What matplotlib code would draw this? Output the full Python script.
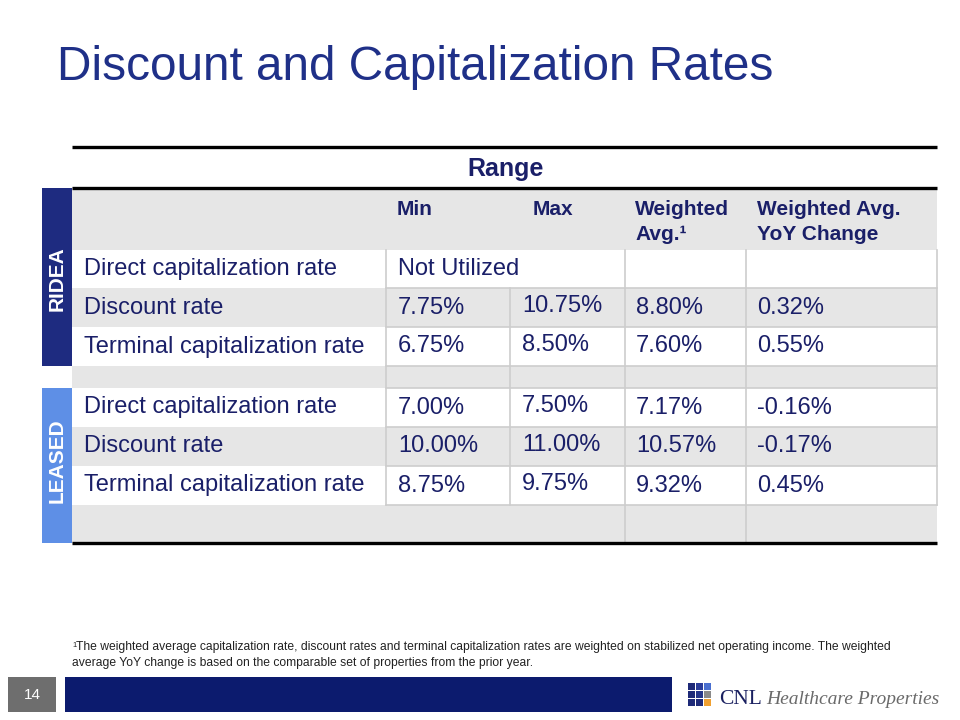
import matplotlib
matplotlib.use("Agg")
import matplotlib.pyplot as plt
from matplotlib.patches import Rectangle

# ---------------- data ----------------
title = "Discount and Capitalization Rates"
group_header = "Range"
col_headers = ["Min", "Max", "Weighted\nAvg.¹", "Weighted Avg.\nYoY Change"]
sections = ["RIDEA", "LEASED"]
row_labels = ["Direct capitalization rate", "Discount rate", "Terminal capitalization rate"]
ridea_min = ["Not Utilized", "7.75%", "6.75%"]
ridea_max = ["", "10.75%", "8.50%"]
ridea_wavg = ["", "8.80%", "7.60%"]
ridea_yoy = ["", "0.32%", "0.55%"]
leased_min = ["7.00%", "10.00%", "8.75%"]
leased_max = ["7.50%", "11.00%", "9.75%"]
leased_wavg = ["7.17%", "10.57%", "9.32%"]
leased_yoy = ["-0.16%", "-0.17%", "0.45%"]
footnote_mark = "1"
footnote_lines = ["The weighted average capitalization rate, discount rates and terminal capitalization rates are weighted on "
                  "stabilized net operating income. The weighted",
                  "average YoY change is based on the comparable set of properties from the prior year."]
page_no = "14"

# ---------------- style ----------------
NAVY = "#1F3088"
TXT = "#1A1F68"
GRAY = "#E6E6E6"
LINE = "#CDCDCD"
RIDEA_C = "#1E2B80"
LEASED_C = "#5E8FE6"
FONT = "Liberation Sans"

fig = plt.figure(figsize=(9.6, 7.2), dpi=100)
ax = fig.add_axes([0, 0, 1, 1])
ax.set_xlim(0, 960)
ax.set_ylim(720, 0)
ax.axis("off")

def rect(x0, y0, x1, y1, color, z=1):
    ax.add_patch(Rectangle((x0, y0), x1 - x0, y1 - y0, facecolor=color, edgecolor="none", zorder=z))

# title
ax.text(57, 68, title, fontsize=34.4, color=NAVY, family=FONT, va="center", ha="left")

# table geometry
X = [72, 386, 510, 625, 746, 937]
hdr_top, hdr_bot = 188, 250
sec_rows = [[250, 288, 327, 366], [388, 427, 466, 505]]
spacer = (366, 388)
blank = (505, 543)

rect(X[0], hdr_top, X[5], hdr_bot, GRAY)
for rows in sec_rows:
    for i in range(3):
        rect(X[0], rows[i], X[5], rows[i + 1], GRAY if i == 1 else "white")
rect(X[0], spacer[0], X[5], spacer[1], GRAY)
rect(X[0], blank[0], X[5], blank[1], GRAY)

for xv, y0, y1 in [(X[1], 250, 505), (X[2], 288, 505), (X[3], 250, 543), (X[4], 250, 543), (X[5], 250, 505)]:
    ax.plot([xv, xv], [y0, y1], color=LINE, lw=1.2, zorder=2)
for yv in [288, 327, 366, 388, 427, 466, 505]:
    ax.plot([X[1], X[5]], [yv, yv], color=LINE, lw=1.2, zorder=2)

for yv in [147, 188, 543]:
    ax.plot([X[0], X[5]], [yv, yv], color="black", lw=2.4, zorder=3, solid_capstyle="butt")

ax.text(506, 169, group_header, fontsize=18, fontweight="bold", color=TXT, family=FONT, ha="center", va="center")

hx = [397, 533, 635, 757]
for x, h in zip(hx, col_headers):
    ax.text(x, 200, h, fontsize=15, fontweight="bold", color=TXT, family=FONT, ha="left", va="top", linespacing=1.38)

bands = [(188, 366, RIDEA_C), (388, 543, LEASED_C)]
for (y0, y1, c), name, yc in zip(bands, sections, [279, 461]):
    rect(42, y0, 72, y1, c)
    ax.text(57, yc, name, rotation=90, fontsize=15, fontweight="bold",
            color="white", family=FONT, ha="center", va="center")

vx = [398, 522, 636, 757]
data = [(ridea_min, ridea_max, ridea_wavg, ridea_yoy), (leased_min, leased_max, leased_wavg, leased_yoy)]
for rows, cols in zip(sec_rows, data):
    for i in range(3):
        yc = (rows[i] + rows[i + 1]) / 2
        ax.text(84, yc, row_labels[i], fontsize=17, color=TXT, family=FONT, ha="left", va="center")
        for x, col in zip(vx, cols):
            v = col[i]
            if v:
                ax.text(x, yc - (1.5 if x == 522 else 0), v, fontsize=17, color=TXT, family=FONT,
                        ha="left", va="center")

# footnote
FN = ["Liberation Sans Narrow", FONT]
ax.text(72, 642, footnote_mark, fontsize=5.5, color="#222222", family=FONT, ha="left", va="top")
ax.text(76, 647, footnote_lines[0], fontsize=8.7, color="#222222", family=FN, ha="left", va="center")
ax.text(72, 663, footnote_lines[1], fontsize=8.7, color="#222222", family=FN, ha="left", va="center")

# footer
rect(8, 677, 56, 712, "#6E6E6E")
ax.text(32, 695, page_no, fontsize=11, color="white", family=FONT, ha="center", va="center")
rect(65, 677, 672, 712, "#0C1B6E")

logo = [["#1E2A78", "#2A3C9A", "#4A6FD0"],
        ["#1E2A78", "#24358A", "#8A8A8A"],
        ["#1E2A78", "#1E2A78", "#F0A030"]]
s = 8.3
for r in range(3):
    for c in range(3):
        rect(687 + c * s + 0.5, 682 + r * s + 0.5, 687 + (c + 1) * s - 0.5, 682 + (r + 1) * s - 0.5, logo[r][c])
ax.text(719, 699, "CNL", fontsize=15.5, color="#1A2060", family="Liberation Serif", ha="left", va="center")
ax.text(766, 699, "Healthcare Properties", fontsize=14, style="italic", color="#6A6A6A",
        family="Liberation Serif", ha="left", va="center")

fig.savefig("out.png", dpi=100)
